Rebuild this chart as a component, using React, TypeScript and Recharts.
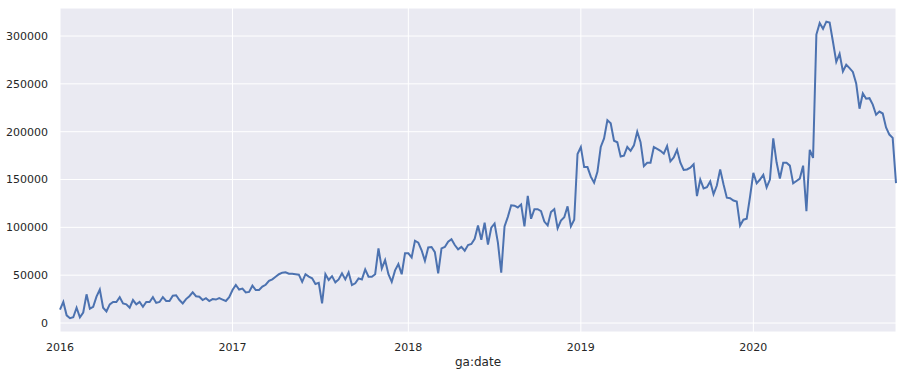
import React from 'react';
import { LineChart, Line, XAxis, YAxis, CartesianGrid, Label } from 'recharts';

// weekly sessions (ga:date), first week of 2016 to end of Oct 2020
const sessions = [
  14000, 22000, 8000, 5000, 6000, 16000, 6000, 11000, 30000, 15000,
  17000, 27500, 35000, 16000, 12000, 19500, 22000, 22000, 27000, 20500,
  19500, 16000, 24000, 19500, 22000, 17000, 22000, 22000, 27000, 21000,
  22000, 27000, 23000, 23000, 28500, 29000, 24000, 20500, 25000, 28000,
  32000, 28000, 27500, 24000, 26000, 23000, 25000, 24500, 26000, 24500,
  23000, 27000, 34500, 39700, 35000, 36000, 32000, 32500, 39000, 34500,
  34500, 38000, 40000, 44000, 45700, 48400, 51000, 52600, 53000, 51500,
  51500, 51000, 50500, 43000, 51000, 48500, 46800, 40800, 42000, 20600,
  51000, 45000, 49000, 42500, 45600, 52000, 45600, 53000, 39700, 41500,
  46700, 45600, 56000, 48400, 48400, 51000, 78000, 57000, 65800, 51000,
  43000, 55000, 61600, 51000, 72800, 72800, 68600, 86000, 84000, 76000,
  65000, 79000, 79500, 74000, 52000, 78000, 79500, 85000, 87500, 81500,
  77000, 79500, 75600, 81500, 82600, 88000, 102000, 87000, 104800, 82000,
  99600, 104000, 84000, 52600, 101000, 111000, 123000, 122600, 120800, 124000,
  101000, 133000, 109000, 119000, 119000, 117000, 106000, 102000, 116000, 119000,
  99000, 107000, 110500, 122000, 101000, 108000, 176600, 184000, 163000, 163000,
  153000, 146600, 158000, 184000, 193000, 212000, 208700, 190500, 189000, 174000,
  175000, 184000, 180000, 185700, 200000, 189000, 164000, 167500, 167500, 184000,
  182000, 180000, 177000, 185000, 169000, 173000, 181000, 167500, 160000, 160500,
  162300, 166000, 132700, 150000, 140700, 142000, 148000, 134600, 143700, 160600,
  145000, 131000, 130500, 128000, 127000, 101700, 108000, 109000, 132000, 157000,
  146000, 150000, 155000, 141800, 150000, 193000, 168000, 151000, 167500, 167500,
  164500, 146000, 148500, 151000, 164500, 117000, 181000, 172500, 301500, 313500,
  307500, 315000, 314000, 294000, 273000, 281500, 263000, 270000, 266500, 262500,
  250500, 224000, 240000, 234500, 235000, 228300, 217700, 221000, 219000, 204500,
  197000, 193500, 146300,
];

const yearLabels = ['2016', '2017', '2018', '2019', '2020'];
// week index of the week containing 1 January of each year
const yearWeekIndex = [0, 52, 105, 157, 209];
const yTicks = [0, 50000, 100000, 150000, 200000, 250000, 300000];

const data = sessions.map((v, i) => ({ week: i, sessions: v }));

const FONT = '"DejaVu Sans", sans-serif';
const TEXT = '#262626';

export default function App() {
  return (
    <div style={{ position: 'fixed', left: 0, top: 0, width: 902, height: 377, background: '#ffffff' }}>
      <LineChart
        width={902}
        height={377}
        data={data}
        margin={{ top: 8, right: 6, left: 0, bottom: 0 }}
      >
        <CartesianGrid fill="#EAEAF2" stroke="#ffffff" strokeWidth={1} fillOpacity={1} />
        <XAxis
          dataKey="week"
          type="number"
          domain={[0, sessions.length - 1]}
          ticks={yearWeekIndex}
          interval={0}
          tickFormatter={(v: number) => yearLabels[yearWeekIndex.indexOf(v)] ?? ''}
          axisLine={false}
          tickLine={false}
          tickSize={0}
          tickMargin={11}
          height={45}
          tick={{ fill: TEXT, fontSize: 11, fontFamily: FONT }}
        >
          <Label
            value="ga:date"
            position="insideBottom"
            offset={11}
            style={{ fill: TEXT, fontSize: 12, fontFamily: FONT }}
          />
        </XAxis>
        <YAxis
          type="number"
          domain={[-9400, 329300]}
          ticks={yTicks}
          interval={0}
          tickFormatter={(v: number) => String(v)}
          axisLine={false}
          tickLine={false}
          tickSize={0}
          tickMargin={12}
          width={60}
          tick={{ fill: TEXT, fontSize: 11, fontFamily: FONT }}
        />
        <Line
          type="linear"
          dataKey="sessions"
          stroke="#4C72B0"
          strokeWidth={2}
          dot={false}
          activeDot={false}
          isAnimationActive={false}
        />
      </LineChart>
    </div>
  );
}
